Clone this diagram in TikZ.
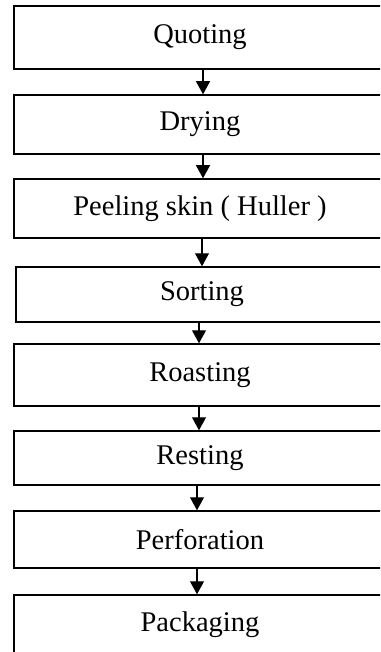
\documentclass[tikz,border=0pt]{standalone}
\usepackage{fontspec}
\setmainfont{Liberation Serif}
\usetikzlibrary{arrows.meta}

\begin{document}
\begin{tikzpicture}[x=1pt, y=1pt,
    stepbox/.style={draw, line width=1.5pt, rectangle, minimum width=372pt, inner sep=0pt,
      font=\fontsize{28.5}{34}\selectfont},
    flow/.style={line width=1.2pt, -{Triangle[length=13pt, width=14pt]}}]
    \useasboundingbox (0,0) rectangle (380,-652);
    \clip (0,0) rectangle (380,-652);
    \node[stepbox, minimum height=63pt] (quot) at (200,-37.5) {Quoting};
    \node[stepbox, minimum height=59pt] (dry) at (200,-124.5) {Drying};
    \node[stepbox, minimum height=59pt] (peel) at (200,-208.5) {Peeling skin ( Huller )};
    \node[stepbox, minimum height=55pt] (sort) at (202,-294.5) {Sorting};
    \node[stepbox, minimum height=62pt] (roast) at (200,-375) {Roasting};
    \node[stepbox, minimum height=54pt] (rest) at (200,-458) {Resting};
    \node[stepbox, minimum height=57pt] (perf) at (200,-539.5) {Perforation};
    \node[stepbox, minimum height=60pt] (pack) at (200,-625) {Packaging};
    \draw[flow] ([xshift=3pt]quot.south) -- ([xshift=3pt]dry.north);
    \draw[flow] ([xshift=3pt]dry.south) -- ([xshift=3pt]peel.north);
    \draw[flow] ([xshift=2pt]peel.south) -- ([xshift=0pt]sort.north);
    \draw[flow] ([xshift=-3pt]sort.south) -- ([xshift=-1pt]roast.north);
    \draw[flow] ([xshift=-1pt]roast.south) -- ([xshift=-1pt]rest.north);
    \draw[flow] ([xshift=-3pt]rest.south) -- ([xshift=-3pt]perf.north);
    \draw[flow] ([xshift=-3pt]perf.south) -- ([xshift=-3pt]pack.north);
\end{tikzpicture}
\end{document}
